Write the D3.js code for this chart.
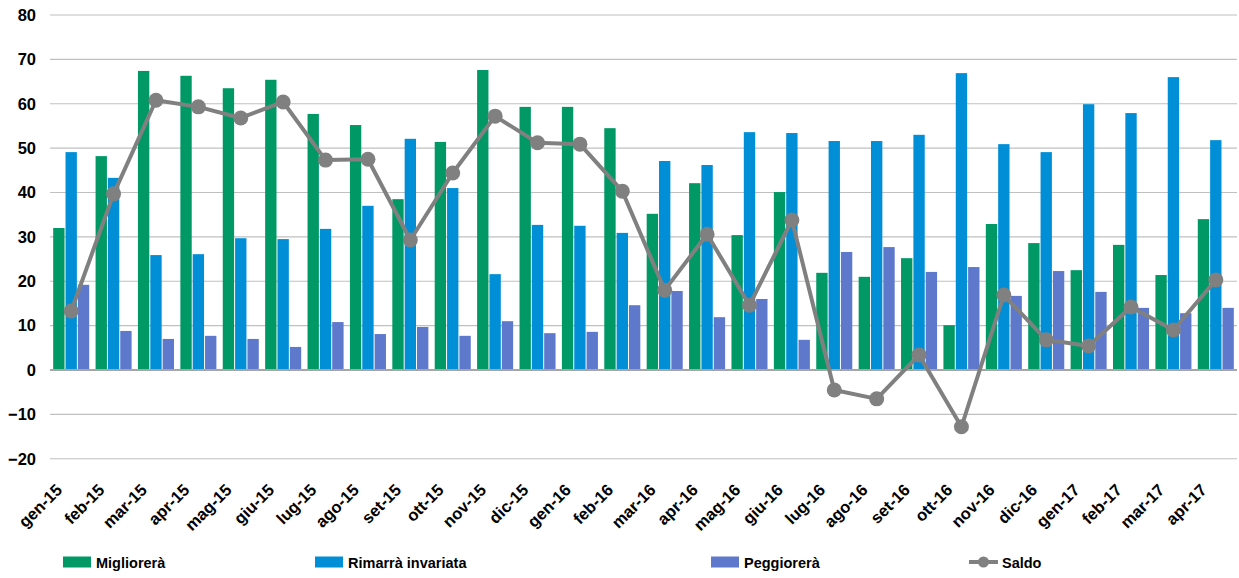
<!DOCTYPE html>
<html>
<head>
<meta charset="utf-8">
<script src="https://cdn.jsdelivr.net/npm/d3@7/dist/d3.min.js"></script>
<style>
  body { margin: 0; background: #fff; }
  svg { font-family: 'Liberation Sans', Arial, sans-serif; font-weight: bold; }
</style>
</head>
<body>
<svg id="chart" width="1239" height="578"></svg>
<script>
/* global d3 */

const months = ['gen-15', 'feb-15', 'mar-15', 'apr-15', 'mag-15', 'giu-15', 'lug-15', 'ago-15', 'set-15', 'ott-15',
  'nov-15', 'dic-15', 'gen-16', 'feb-16', 'mar-16', 'apr-16', 'mag-16', 'giu-16', 'lug-16', 'ago-16',
  'set-16', 'ott-16', 'nov-16', 'dic-16', 'gen-17', 'feb-17', 'mar-17', 'apr-17'];

const migliorera = [32.0, 48.2, 67.4, 66.3, 63.5, 65.4, 57.7, 55.2, 38.5, 51.4,
  67.6, 59.3, 59.3, 54.5, 35.2, 42.1, 30.4, 40.1, 21.9, 21.0,
  25.2, 10.1, 32.9, 28.6, 22.5, 28.2, 21.4, 34.0];

const rimarra = [49.1, 43.3, 25.9, 26.1, 29.7, 29.5, 31.8, 37.0, 52.1, 41.0,
  21.6, 32.7, 32.5, 30.9, 47.1, 46.2, 53.6, 53.4, 51.6, 51.6,
  53.0, 66.9, 50.9, 49.1, 59.9, 57.9, 66.0, 51.8];

const peggiorera = [19.2, 8.8, 7.0, 7.7, 7.0, 5.2, 10.8, 8.1, 9.7, 7.7,
  11.0, 8.3, 8.6, 14.6, 17.8, 11.9, 16.0, 6.8, 26.6, 27.7,
  22.1, 23.2, 16.7, 22.3, 17.6, 14.0, 12.8, 14.0];

const saldo = [13.3, 39.7, 60.8, 59.3, 56.8, 60.4, 47.3, 47.5, 29.3, 44.4,
  57.2, 51.2, 50.9, 40.3, 18.0, 30.6, 14.6, 33.8, -4.5, -6.5,
  3.4, -12.8, 16.9, 6.8, 5.4, 14.2, 9.0, 20.3];

const yTicks = [-20, -10, 0, 10, 20, 30, 40, 50, 60, 70, 80];

const barSeries = [
  { key: 'Migliorerà', values: migliorera, color: '#009966' },
  { key: 'Rimarrà invariata', values: rimarra, color: '#008fd7' },
  { key: 'Peggiorerà', values: peggiorera, color: '#5e78cb' }
];
const lineColor = '#808080';

let svg = d3.select('#chart');

let x0 = d3.scaleBand().domain(months).range([50, 1237])
  .paddingInner(0.15).paddingOuter(0.075);
let x1 = d3.scaleBand().domain(barSeries.map(s => s.key)).range([0, x0.bandwidth()])
  .paddingInner(0.08);
let y = d3.scaleLinear().domain([-20, 80]).range([458.75, 15]);

// grid lines
let grid = svg.append('g').classed('grid', true);
grid.selectAll('line')
  .data(yTicks.filter(t => t !== 0))
  .enter().append('line')
  .attr('x1', 50).attr('x2', 1237)
  .attr('y1', d => y(d)).attr('y2', d => y(d))
  .style('stroke', '#c0c0c0')
  .style('stroke-width', 1.2);

// y axis labels
let yAxis = svg.append('g').attr('transform', 'translate(36,0)')
  .call(d3.axisLeft(y).tickValues(yTicks).tickSize(0).tickPadding(0));
yAxis.select('.domain').remove();
yAxis.selectAll('text')
  .style('font-size', '16.5px')
  .style('font-weight', 'bold')
  .style('font-family', "'Liberation Sans', Arial, sans-serif")
  .style('fill', '#000');

// bars
let groups = svg.append('g').classed('bars', true)
  .selectAll('g')
  .data(months)
  .enter().append('g')
  .attr('transform', d => `translate(${x0(d)},0)`);

groups.selectAll('rect')
  .data((m, i) => barSeries.map(s => ({ key: s.key, value: s.values[i], color: s.color })))
  .enter().append('rect')
  .attr('x', d => x1(d.key))
  .attr('width', x1.bandwidth())
  .attr('y', d => y(Math.max(0, d.value)))
  .attr('height', d => Math.abs(y(d.value) - y(0)))
  .style('fill', d => d.color);

// zero line
svg.append('line')
  .attr('x1', 50).attr('x2', 1237)
  .attr('y1', y(0)).attr('y2', y(0))
  .style('stroke', '#a6a6a6')
  .style('stroke-width', 2);

// saldo line
let cx = d => x0(d) + x0.bandwidth() / 2;
let line = d3.line().x((d, i) => cx(months[i])).y(d => y(d));

svg.append('path')
  .datum(saldo)
  .attr('d', line)
  .style('fill', 'none')
  .style('stroke', lineColor)
  .style('stroke-width', 4)
  .style('stroke-linejoin', 'round');

svg.append('g').selectAll('circle')
  .data(saldo)
  .enter().append('circle')
  .attr('cx', (d, i) => cx(months[i]))
  .attr('cy', d => y(d))
  .attr('r', 7.5)
  .style('fill', lineColor);

// x labels, rotated
svg.append('g').selectAll('text')
  .data(months)
  .enter().append('text')
  .attr('transform', d => `translate(${cx(d) - 8},${491}) rotate(-45)`)
  .attr('text-anchor', 'end')
  .style('font-size', '16.5px')
  .text(d => d);

// legend
let legendItems = [
  { label: 'Migliorerà', color: barSeries[0].color, x: 63, type: 'rect' },
  { label: 'Rimarrà invariata', color: barSeries[1].color, x: 315, type: 'rect' },
  { label: 'Peggiorerà', color: barSeries[2].color, x: 711, type: 'rect' },
  { label: 'Saldo', color: lineColor, x: 969, type: 'line' }
];

let legend = svg.append('g').selectAll('g')
  .data(legendItems)
  .enter().append('g')
  .attr('transform', d => `translate(${d.x},562)`);

legend.filter(d => d.type === 'rect').append('rect')
  .attr('x', 0).attr('y', -5.5)
  .attr('width', 28).attr('height', 11)
  .style('fill', d => d.color);

legend.filter(d => d.type === 'line').append('line')
  .attr('x1', 0).attr('x2', 29).attr('y1', 0).attr('y2', 0)
  .style('stroke', d => d.color)
  .style('stroke-width', 4);

legend.filter(d => d.type === 'line').append('circle')
  .attr('cx', 14.5).attr('cy', 0).attr('r', 5.5)
  .style('fill', d => d.color);

legend.append('text')
  .attr('x', 33)
  .attr('y', 5.5)
  .style('font-size', '14.5px')
  .text(d => d.label);
</script>
</body>
</html>
